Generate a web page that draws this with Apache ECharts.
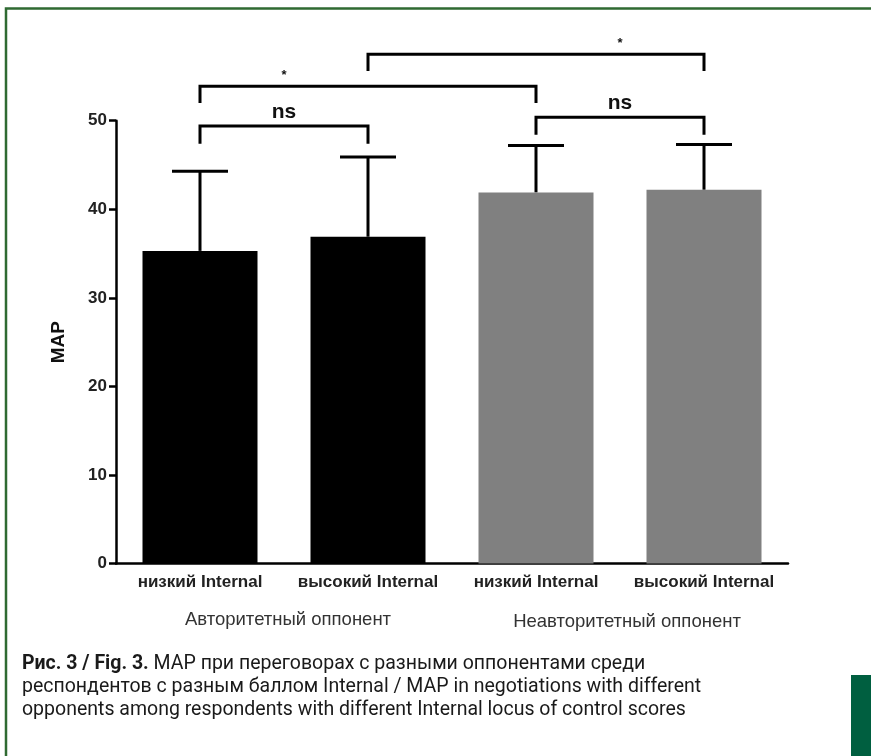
<!DOCTYPE html>
<html>
<head>
<meta charset="utf-8">
<script src="https://cdn.jsdelivr.net/npm/echarts@6/dist/echarts.min.js"></script>
<style>
html,body{margin:0;padding:0;background:#fff;}
#chart{width:871px;height:756px;}
</style>
</head>
<body>
<div id="chart"></div>
<script>
var categories = ['низкий Internal', 'высокий Internal', 'низкий Internal', 'высокий Internal'];
var groupLabels = ['Авторитетный оппонент', 'Неавторитетный оппонент'];
var meanValues = [35.3, 36.9, 41.9, 42.2];
var errorTops = [44.3, 45.9, 47.2, 47.3];
var barColors = ['#000000', '#000000', '#808080', '#808080'];
var yTicks = [0, 10, 20, 30, 40, 50];
// brackets: [fromCategory, toCategory, barLevel, legBottom, label, labelCategoryPosition]
var brackets = [
  [0, 1, 49.4, 47.4, 'ns', 0.5],
  [2, 3, 50.4, 48.4, 'ns', 2.5],
  [0, 2, 53.9, 52.0, '*', 0.5],
  [1, 3, 57.5, 55.6, '*', 2.5]
];
var captionBold = 'Рис. 3 / Fig. 3.';
var captionLines = [
  ' MAP при переговорах с разными оппонентами среди',
  'респондентов с разным баллом Internal / MAP in negotiations with different',
  'opponents among respondents with different Internal locus of control scores'
];

var chart = echarts.init(document.getElementById('chart'), null, {renderer: 'canvas'});
var FONT = 'Liberation Sans, Arial, sans-serif';

var barData = meanValues.map(function (v, i) {
  return {value: v, itemStyle: {color: barColors[i]}};
});
var errData = meanValues.map(function (v, i) { return [i, v, errorTops[i]]; });

var option = {
  animation: false,
  backgroundColor: '#ffffff',
  grid: {left: 116, right: 83, top: 120.7, bottom: 192.5, containLabel: false},
  xAxis: {
    type: 'category',
    data: categories,
    axisLine: {lineStyle: {color: '#000', width: 2.5}},
    axisTick: {alignWithLabel: true, interval: 0, length: 6, lineStyle: {color: '#000', width: 2.5}},
    axisLabel: {interval: 0, hideOverlap: false, color: '#222', fontFamily: FONT, fontWeight: 'bold', fontSize: 17, margin: 10},
    splitLine: {show: false}
  },
  yAxis: {
    type: 'value',
    min: 0, max: 50, interval: 10,
    name: 'MAP',
    nameLocation: 'middle',
    nameGap: 48,
    nameTextStyle: {color: '#111', fontFamily: FONT, fontWeight: 'bold', fontSize: 19},
    axisLine: {show: true, lineStyle: {color: '#000', width: 2.5}},
    axisTick: {show: true, length: 7, lineStyle: {color: '#000', width: 2.5}},
    axisLabel: {color: '#222', fontFamily: FONT, fontWeight: 'bold', fontSize: 17, margin: 9,
      formatter: function (v) { return yTicks.indexOf(v) >= 0 ? String(v) : ''; }},
    splitLine: {show: false}
  },
  series: [
    {
      type: 'bar',
      data: barData,
      barWidth: 115,
      silent: true
    },
    {
      type: 'custom',
      data: errData,
      clip: false,
      silent: true,
      z: 1,
      renderItem: function (params, api) {
        var x = api.value(0);
        var p0 = api.coord([x, api.value(1)]);
        var p1 = api.coord([x, api.value(2)]);
        var half = 28;
        var st = {stroke: '#000', lineWidth: 3};
        return {type: 'group', children: [
          {type: 'line', shape: {x1: p0[0], y1: p0[1], x2: p1[0], y2: p1[1]}, style: st},
          {type: 'line', shape: {x1: p1[0] - half, y1: p1[1], x2: p1[0] + half, y2: p1[1]}, style: st}
        ]};
      }
    },
    {
      type: 'custom',
      data: brackets,
      clip: false,
      silent: true,
      renderItem: function (params, api) {
        var b = brackets[params.dataIndex];
        var a1 = api.coord([b[0], b[2]]);
        var a2 = api.coord([b[1], b[2]]);
        var l1 = api.coord([b[0], b[3]]);
        var c0 = api.coord([0, 0]);
        var c1 = api.coord([1, 0]);
        var lx = c0[0] + (c1[0] - c0[0]) * b[5];
        var isNs = b[4] === 'ns';
        var st = {stroke: '#000', lineWidth: 3, fill: null, lineJoin: 'miter'};
        return {type: 'group', children: [
          {type: 'polyline', shape: {points: [[a1[0], l1[1]], [a1[0], a1[1]], [a2[0], a1[1]], [a2[0], l1[1]]]}, style: st},
          {type: 'text', style: {
            text: b[4], x: lx, y: a1[1] - (isNs ? 14 : 11),
            align: 'center', verticalAlign: 'middle',
            font: isNs ? 'bold 21px ' + FONT : 'bold 13px ' + FONT,
            fill: '#111'}}
        ]};
      }
    }
  ],
  graphic: [
    {type: 'rect', shape: {x: 6, y: 8.5, width: 880, height: 800}, style: {fill: null, stroke: '#2f6a32', lineWidth: 2.5}, silent: true},
    {type: 'rect', shape: {x: 851, y: 675, width: 20, height: 81}, style: {fill: '#005f40'}, silent: true},
    {type: 'text', x: 288, y: 620, style: {text: groupLabels[0], align: 'center', verticalAlign: 'middle', font: '18.5px ' + FONT, fill: '#333'}},
    {type: 'text', x: 627, y: 622, style: {text: groupLabels[1], align: 'center', verticalAlign: 'middle', font: '18.5px ' + FONT, fill: '#333'}},
    {type: 'text', left: 22, top: 654, style: {
      text: '{b|' + captionBold + '}{r|' + captionLines[0] + '}',
      rich: {
        b: {font: 'bold 19.5px Roboto', fill: '#1a1a1a'},
        r: {font: '19.5px Roboto', fill: '#1a1a1a'}
      }}},
    {type: 'text', left: 22, top: 677, style: {text: captionLines[1], font: '19.5px Roboto', fill: '#1a1a1a'}},
    {type: 'text', left: 22, top: 700, style: {text: captionLines[2], font: '19.5px Roboto', fill: '#1a1a1a'}}
  ]
};
chart.setOption(option);
</script>
</body>
</html>
